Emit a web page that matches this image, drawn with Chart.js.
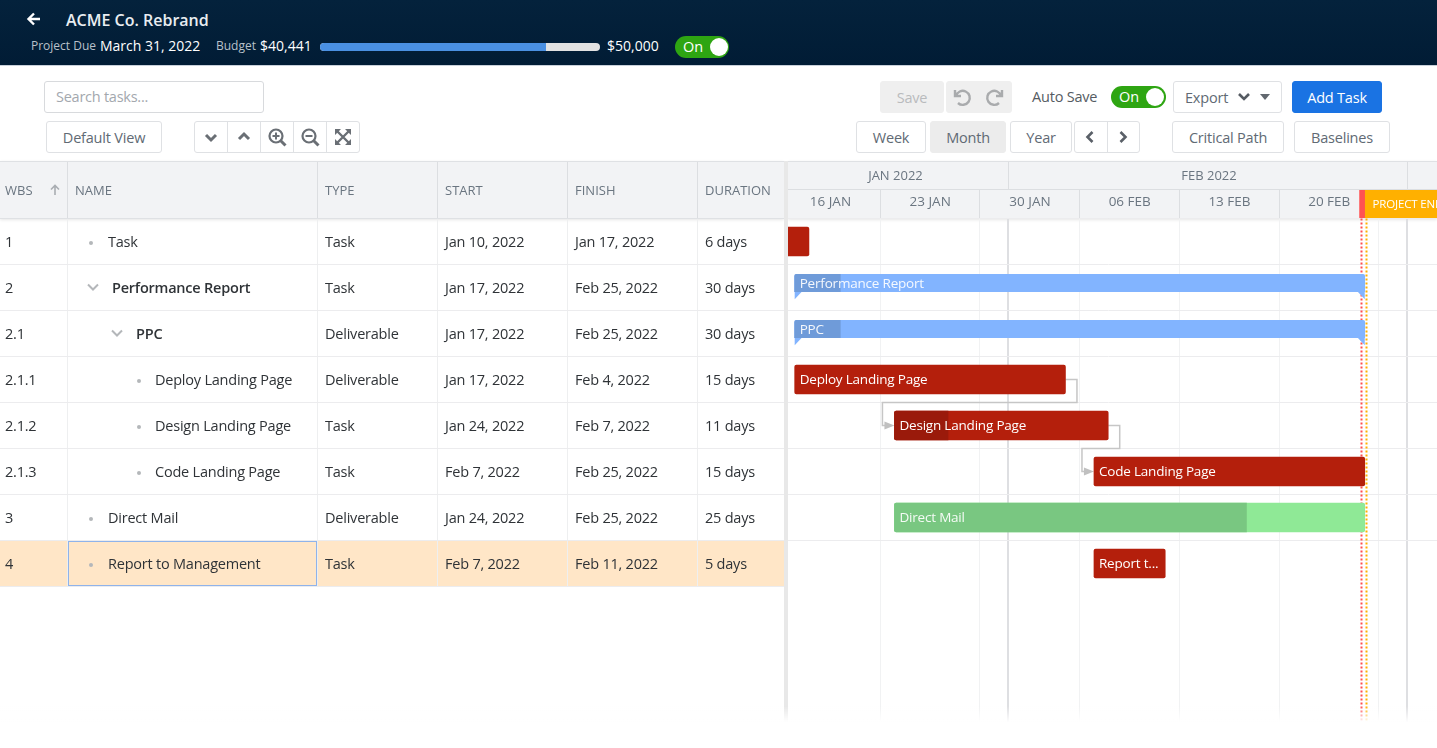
<!DOCTYPE html>
<html><head><meta charset="utf-8">
<script src="https://cdn.jsdelivr.net/npm/chart.js@4"></script>
<style>
html,body{margin:0;padding:0;background:#fff;width:1437px;height:748px;overflow:hidden;font-family:"Open Sans",sans-serif;color:#3a3a3a}
.a{position:absolute;white-space:nowrap;box-sizing:border-box}
.btn{position:absolute;box-sizing:border-box;border:1px solid #dfe1e4;border-radius:3px;background:#fff;display:flex;align-items:center;justify-content:center;font-size:14.5px;letter-spacing:-.2px;color:#616a74}
.cell{position:absolute;white-space:nowrap;font-size:14.5px;letter-spacing:-.22px;color:#2f3337;line-height:20px}
.hd{position:absolute;white-space:nowrap;font-size:13px;color:#6a7580;line-height:18px;top:181px}
svg{display:block}
#chartBox{position:absolute;left:780px;top:162px;width:657px;height:563px}
</style></head><body>
<div class="a" style="left:0;top:0;width:1437px;height:66px;background:linear-gradient(#04223c,#011c35);border-bottom:1px solid #c8d0da"></div>
<svg class="a" style="left:26px;top:11px" width="16" height="16" viewBox="0 0 16 16"><path d="M14 8H3M8 2.5L2.5 8 8 13.5" fill="none" stroke="#fff" stroke-width="2.4"/></svg>
<div class="a" style="left:66px;top:9px;font-size:16px;font-weight:600;color:#e9edf1;line-height:22px">ACME Co. Rebrand</div>
<div class="a" style="left:31px;top:37px;font-size:12px;color:#b9c1ca;line-height:18px">Project Due</div>
<div class="a" style="left:100px;top:36px;font-size:14px;color:#fff;line-height:20px">March 31, 2022</div>
<div class="a" style="left:216px;top:37px;font-size:12px;color:#b9c1ca;line-height:18px">Budget</div>
<div class="a" style="left:260px;top:36px;font-size:14px;color:#fff;line-height:20px">$40,441</div>
<div class="a" style="left:320px;top:43px;width:280px;height:8px;border-radius:4px;background:#e2e2e2;overflow:hidden"><div style="width:226px;height:8px;background:#4a90e2"></div></div>
<div class="a" style="left:607px;top:36px;font-size:14px;color:#fff;line-height:20px">$50,000</div>
<div class="a" style="left:675px;top:36px;width:54px;height:22px;border-radius:11px;background:#2ea512"></div>
<div class="a" style="left:683px;top:36px;font-size:14.5px;color:#fff;line-height:21px">On</div>
<div class="a" style="left:710px;top:38px;width:18px;height:18px;border-radius:9px;background:#fff"></div>

<div class="a" style="left:44px;top:81px;width:220px;height:32px;border:1px solid #d8dadd;border-radius:3px;font-size:14.5px;letter-spacing:-.25px;color:#a3a8ae;line-height:30px;padding-left:11px">Search tasks...</div>
<div class="btn" style="left:46px;top:121px;width:116px;height:32px">Default View</div>
<div class="btn" style="left:194px;top:121px;width:166px;height:32px"></div>
<div id="iconDiv"></div>
<div class="btn" style="left:880px;top:81px;width:64px;height:32px;background:#efefef;border-color:#efefef;color:#b9bbbd">Save</div>
<div class="btn" style="left:946px;top:81px;width:66px;height:32px;background:#efefef;border-color:#efefef"></div>
<svg class="a" style="left:951px;top:87px" width="22" height="20" viewBox="0 0 22 20"><path d="M4 3v6h6M5 9a7 7 0 1 1 2 7" fill="none" stroke="#a9abad" stroke-width="2.4"/></svg>
<svg class="a" style="left:984px;top:87px" width="22" height="20" viewBox="0 0 22 20"><path d="M18 3v6h-6M17 9a7 7 0 1 0-2 7" fill="none" stroke="#a9abad" stroke-width="2.4"/></svg>
<div class="a" style="left:1032px;top:87px;font-size:14.5px;letter-spacing:-.2px;color:#555b62;line-height:20px">Auto Save</div>
<div class="a" style="left:1111px;top:86px;width:55px;height:22px;border-radius:11px;background:#2ea512"></div>
<div class="a" style="left:1119px;top:86px;font-size:14.5px;color:#fff;line-height:21px">On</div>
<div class="a" style="left:1146px;top:88px;width:18px;height:18px;border-radius:9px;background:#fff"></div>
<div class="btn" style="left:1173px;top:81px;width:109px;height:32px;justify-content:flex-start;padding-left:11px">Export</div>
<svg class="a" style="left:1237px;top:92px" width="14" height="10" viewBox="0 0 14 10"><path d="M2 2l5 5 5-5" fill="none" stroke="#555b62" stroke-width="2.6"/></svg>
<svg class="a" style="left:1260px;top:94px" width="10" height="6" viewBox="0 0 10 6"><path d="M0 0h10L5 6z" fill="#62686f"/></svg>
<div class="btn" style="left:1292px;top:81px;width:90px;height:32px;background:#1a73e3;border-color:#1a73e3;color:#fff">Add Task</div>
<div class="btn" style="left:856px;top:121px;width:70px;height:32px">Week</div>
<div class="btn" style="left:930px;top:121px;width:76px;height:32px;background:#ececec;border-color:#ececec">Month</div>
<div class="btn" style="left:1010px;top:121px;width:62px;height:32px">Year</div>
<div class="btn" style="left:1074px;top:121px;width:66px;height:32px"></div>
<div class="a" style="left:1107px;top:121px;width:1px;height:32px;background:#dfe1e4"></div>
<svg class="a" style="left:1085px;top:130px" width="10" height="14" viewBox="0 0 10 14"><path d="M7.5 2L2.5 7l5 5" fill="none" stroke="#5a6068" stroke-width="2.6"/></svg>
<svg class="a" style="left:1118px;top:130px" width="10" height="14" viewBox="0 0 10 14"><path d="M2.5 2l5 5-5 5" fill="none" stroke="#5a6068" stroke-width="2.6"/></svg>
<div class="btn" style="left:1172px;top:121px;width:112px;height:32px">Critical Path</div>
<div class="btn" style="left:1294px;top:121px;width:96px;height:32px">Baselines</div>

<div class="a" style="left:788px;top:161px;width:649px;height:58px;background:#f2f3f5;border-top:1px solid #dfe1e4;border-bottom:1px solid #dfe1e4;box-shadow:0 1px 3px rgba(0,0,0,.1)"></div>
<div class="a" style="left:788px;top:189px;width:649px;height:1px;background:#dcdee1"></div>
<div id="chartBox"><canvas id="gantt" width="657" height="563"></canvas></div>
<div class="a" style="left:0;top:219px;width:784px;height:508px;background:#fff"></div>
<div class="a" style="left:0;top:161px;width:784px;height:58px;background:#f2f3f5;border-top:1px solid #dfe1e4;border-bottom:1px solid #dfe1e4;box-shadow:0 1px 3px rgba(0,0,0,.1)"></div>
<div id="tableDiv"></div>
<div class="a" style="left:784px;top:161px;width:4px;height:565px;background:#e8e8e8"></div>
<div class="a" style="left:0;top:706px;width:1437px;height:22px;background:linear-gradient(rgba(255,255,255,0),#fff 75%)"></div>

<script>
// ---------- data ----------
const wbs = ['1','2','2.1','2.1.1','2.1.2','2.1.3','3','4'];
const names = ['Task','Performance Report','PPC','Deploy Landing Page','Design Landing Page','Code Landing Page','Direct Mail','Report to Management'];
const types = ['Task','Task','Deliverable','Deliverable','Task','Task','Deliverable','Task'];
const starts = ['Jan 10, 2022','Jan 17, 2022','Jan 17, 2022','Jan 17, 2022','Jan 24, 2022','Feb 7, 2022','Jan 24, 2022','Feb 7, 2022'];
const finishes = ['Jan 17, 2022','Feb 25, 2022','Feb 25, 2022','Feb 4, 2022','Feb 7, 2022','Feb 25, 2022','Feb 25, 2022','Feb 11, 2022'];
const durations = ['6 days','30 days','30 days','15 days','11 days','15 days','25 days','5 days'];
const tableHeaders = ['WBS','NAME','TYPE','START','FINISH','DURATION'];
const barLabels = ['','Performance Report','PPC','Deploy Landing Page','Design Landing Page','Code Landing Page','Direct Mail','Report t...'];
const barKinds = ['task','summary','summary','task','task','task','mail','task'];
const progressDays = [0,3.2,3.2,0,3.76,0,24.7,0];
const dependencies = [[3,4],[4,5]];
const weekLabels = ['16 JAN','23 JAN','30 JAN','06 FEB','13 FEB','20 FEB',''];
const monthLabels = ['JAN 2022','FEB 2022'];
const monthStarts = ['Feb 1, 2022','Mar 1, 2022'];
const axisOrigin = 'Jan 16, 2022';
const axisStartDays = -0.03;
const axisEndDays = 46.07;
const todayDays = 40.72;
const projectEndDays = 41.12;
const endLabel = 'PROJECT END';
const emptyRows = ['','',''];

// ---------- table (html) ----------
const colX = [5,75,325,445,575,705];
const colLines = [68,318,438,568,698];
const rowH = 46, rowTop = 218.5;
const indents = [[91,108,0],[93,112,1],[117,136,1],[139,155,0],[139,155,0],[139,155,0],[91,108,0],[91,108,0]];
let h = '';
tableHeaders.forEach((t,i)=>{h+=`<div class="hd" style="left:${colX[i]}px">${t}</div>`});
h+=`<svg class="a" style="left:49px;top:184px" width="12" height="12" viewBox="0 0 12 12"><path d="M6 11V2M2 5.5L6 1.5l4 4" fill="none" stroke="#a9adb2" stroke-width="1.6"/></svg>`;
h+=`<div class="a" style="left:0;top:540px;width:784px;height:46px;background:#ffe6c7"></div>`;
colLines.forEach(x=>{h+=`<div class="a" style="left:${x-1}px;top:162px;width:1px;height:56px;background:#dcdee1"></div><div class="a" style="left:${x-1}px;top:219px;width:1px;height:${rowH*8}px;background:#eeeff0"></div>`});
for(let r=0;r<8;r++){
  const y=rowTop+rowH*r, cy=Math.round(y+13);
  h+=`<div class="a" style="left:0;top:${Math.round(y+rowH-.5)}px;width:784px;height:1px;background:#ececee"></div>`;
  h+=`<div class="cell" style="left:5px;top:${cy}px">${wbs[r]}</div>`;
  const ind=indents[r];
  if(ind[2]) h+=`<svg class="a" style="left:${ind[0]-6}px;top:${cy+5}px" width="12" height="9" viewBox="0 0 12 9"><path d="M1 1.5l5 5 5-5" fill="none" stroke="#b4b7ba" stroke-width="2"/></svg>`;
  else h+=`<div class="a" style="left:${ind[0]-2}px;top:${cy+9}px;width:4px;height:4px;border-radius:2px;background:#b4b7ba"></div>`;
  h+=`<div class="cell" style="left:${ind[1]}px;top:${cy}px;${ind[2]?'font-weight:600;':''}">${names[r]}</div>`;
  h+=`<div class="cell" style="left:325px;top:${cy}px">${types[r]}</div>`;
  h+=`<div class="cell" style="left:445px;top:${cy}px">${starts[r]}</div>`;
  h+=`<div class="cell" style="left:575px;top:${cy}px">${finishes[r]}</div>`;
  h+=`<div class="cell" style="left:705px;top:${cy}px">${durations[r]}</div>`;
}
h+=`<div class="a" style="left:68px;top:541px;width:249px;height:45px;border:1.5px solid #8fb3ea"></div>`;
document.getElementById('tableDiv').innerHTML=h;

const ic='#6a6f75';
const icons=[
 `<path d="M5 8l5 5 5-5" fill="none" stroke="${ic}" stroke-width="3"/>`,
 `<path d="M5 12l5-5 5 5" fill="none" stroke="${ic}" stroke-width="3"/>`,
 `<circle cx="9" cy="9" r="6.5" fill="none" stroke="${ic}" stroke-width="2.2"/><path d="M13.5 13.5l5 5" stroke="${ic}" stroke-width="3"/><path d="M5.5 9h7M9 5.5v7" stroke="${ic}" stroke-width="2"/>`,
 `<circle cx="9" cy="9" r="6.5" fill="none" stroke="${ic}" stroke-width="2.2"/><path d="M13.5 13.5l5 5" stroke="${ic}" stroke-width="3"/><path d="M5.5 9h7" stroke="${ic}" stroke-width="2"/>`,
 `<path d="M3 3l14 14M17 3L3 17" stroke="${ic}" stroke-width="2.4"/><path d="M2 2h6L2 8zM18 2h-6l6 6zM2 18h6l-6-6zM18 18h-6l6-6z" fill="${ic}"/>`];
let ih='';
[210.5,243.5,276.5,309.5,342.5].forEach((cx,i)=>{
  if(i) ih+=`<div class="a" style="left:${Math.round(cx-17)}px;top:121px;width:1px;height:32px;background:#dfe1e4"></div>`;
  ih+=`<svg class="a" style="left:${cx-10}px;top:127px" width="20" height="20" viewBox="0 0 20 20">${icons[i]}</svg>`;
});
document.getElementById('iconDiv').innerHTML=ih;

// ---------- chart ----------
const dayOf = s => Math.round((Date.parse(s)-Date.parse(axisOrigin))/864e5);
const spanFor = k => wbs.map((_,i)=> barKinds[i]===k ? [dayOf(starts[i]), dayOf(finishes[i])+1] : null).concat(emptyRows.map(()=>null));
const progressFor = k => wbs.map((_,i)=> barKinds[i]===k && progressDays[i]>0 ? [dayOf(starts[i]), dayOf(starts[i])+progressDays[i]] : null).concat(emptyRows.map(()=>null));
const monthTicks = monthStarts.map(dayOf);

const base = {grouped:false, borderSkipped:false};
const datasets = [
 {...base,label:'Summary progress',order:1,data:progressFor('summary'),backgroundColor:'#6f9bd9',barThickness:17.5,borderRadius:{topLeft:2},summary:true},
 {...base,label:'Task progress',order:1,data:progressFor('task'),backgroundColor:'#9a1a0b',barThickness:29,borderRadius:{topLeft:2,bottomLeft:2}},
 {...base,label:'Mail progress',order:1,data:progressFor('mail'),backgroundColor:'#79c781',barThickness:29,borderRadius:{topLeft:2,bottomLeft:2}},
 {...base,label:'Summary',order:2,data:spanFor('summary'),backgroundColor:'#82b4ff',barThickness:17.5,borderRadius:{topLeft:2,topRight:2},summary:true},
 {...base,label:'Tasks',order:2,data:spanFor('task'),backgroundColor:'#b41f0c',barThickness:29,borderRadius:2},
 {...base,label:'Mail',order:2,data:spanFor('mail'),backgroundColor:'#8fe996',barThickness:29,borderRadius:2}
];
const SUMMARY_SHIFT = -4.5;

const ganttPlugin = {
 id:'gantt',
 beforeDatasetsDraw(chart){
  const {ctx,chartArea:ca,scales:{x,y}}=chart;
  ctx.save();
  [[todayDays,'#ff4d4f'],[projectEndDays,'#ffb000']].forEach(([d,c])=>{
    const px=Math.round(x.getPixelForValue(d))+.5;
    ctx.strokeStyle=c;ctx.lineWidth=2;ctx.setLineDash([2,2]);
    ctx.beginPath();ctx.moveTo(px,ca.top);ctx.lineTo(px,ca.bottom);ctx.stroke();
  });
  ctx.setLineDash([]);
  dependencies.forEach(([from,to])=>{
    const x0=x.getPixelForValue(dayOf(finishes[from])+1), y0=y.getPixelForValue(from);
    const x1=x.getPixelForValue(dayOf(starts[to])), y1=y.getPixelForValue(to);
    const my=(y0+y1)/2;
    ctx.strokeStyle='#c6c6c6';ctx.lineWidth=1.5;
    ctx.beginPath();ctx.moveTo(x0,y0);ctx.lineTo(x0+11.5,y0);ctx.lineTo(x0+11.5,my);ctx.lineTo(x1-12,my);ctx.lineTo(x1-12,y1);ctx.lineTo(x1-8,y1);ctx.stroke();
    ctx.fillStyle='#c0c0c0';
    ctx.beginPath();ctx.moveTo(x1-10,y1-4);ctx.lineTo(x1,y1);ctx.lineTo(x1-10,y1+4);ctx.closePath();ctx.fill();
  });
  ctx.restore();
 },
 beforeDatasetDraw(chart,args){
  if(chart.data.datasets[args.index].summary){chart.ctx.save();chart.ctx.translate(0,SUMMARY_SHIFT);}
 },
 afterDatasetDraw(chart,args){
  const ds=chart.data.datasets[args.index];
  if(!ds.summary) return;
  const ctx=chart.ctx;
  if(ds.label==='Summary'){
    args.meta.data.forEach((el,i)=>{
      if(!ds.data[i]) return;
      const p=el.getProps(['x','y','base','height'],true);
      const b=p.y+p.height/2;
      ctx.fillStyle=ds.backgroundColor;
      ctx.beginPath();ctx.moveTo(p.base,b-.5);ctx.lineTo(p.base,b+7.5);ctx.lineTo(p.base+7.5,b-.5);ctx.closePath();ctx.fill();
      ctx.beginPath();ctx.moveTo(p.x,b-.5);ctx.lineTo(p.x,b+7.5);ctx.lineTo(p.x-7.5,b-.5);ctx.closePath();ctx.fill();
    });
  }
  ctx.restore();
 },
 afterDatasetsDraw(chart){
  const {ctx,scales:{x,y}}=chart;
  ctx.save();
  ctx.font='13.5px "Open Sans"';ctx.letterSpacing='-.2px';ctx.textBaseline='middle';ctx.textAlign='left';
  barLabels.forEach((t,i)=>{
    if(!t) return;
    const sum=barKinds[i]==='summary';
    ctx.fillStyle=sum||barKinds[i]==='mail'?'rgba(255,255,255,.92)':'#fff';
    ctx.fillText(t,x.getPixelForValue(dayOf(starts[i]))+5,y.getPixelForValue(i)+1+(sum?SUMMARY_SHIFT:0));
  });
  ctx.restore();
 },
 afterDraw(chart){
  const {ctx,chartArea:ca,scales:{x}}=chart;
  ctx.save();
  const rowTopY=x.top, rowMid=x.top+28;
  const bounds=[0].concat(monthTicks);
  ctx.strokeStyle='#dcdee1';ctx.lineWidth=1;
  monthTicks.forEach(d=>{const px=Math.round(x.getPixelForValue(d))+.5;ctx.beginPath();ctx.moveTo(px,rowTopY);ctx.lineTo(px,rowMid);ctx.stroke();});
  ctx.font='13px "Open Sans"';ctx.fillStyle='#6a7580';ctx.textAlign='center';ctx.textBaseline='middle';
  monthLabels.forEach((t,i)=>{ctx.fillText(t,(x.getPixelForValue(bounds[i])+x.getPixelForValue(bounds[i+1]))/2+1,x.top+14);});
  const t=x.getPixelForValue(todayDays), e=x.getPixelForValue(projectEndDays);
  ctx.fillStyle='#ff5252';ctx.fillRect(t-1.5,rowMid,e-t+1,ca.top-rowMid-.5);
  ctx.fillStyle='#ffb000';ctx.fillRect(e-1.5,rowMid,ca.right-e+1.5,ca.top-rowMid-.5);
  ctx.font='500 11.5px "Open Sans"';ctx.letterSpacing='-.15px';ctx.fillStyle='#fff';ctx.textAlign='left';
  ctx.fillText(endLabel,e+6,rowMid+14.5);
  ctx.restore();
 }
};

new Chart(document.getElementById('gantt'),{
 type:'bar',
 data:{labels:wbs.concat(emptyRows),datasets},
 plugins:[ganttPlugin],
 options:{
  indexAxis:'y',responsive:false,animation:false,devicePixelRatio:1,
  layout:{padding:{left:0,right:0,top:0,bottom:.5}},
  plugins:{legend:{display:false},tooltip:{enabled:false},title:{display:false}},
  scales:{
   x:{type:'linear',position:'top',min:axisStartDays,max:axisEndDays,
    afterBuildTicks(s){
      const wk=[];for(let d=0;d<=axisEndDays;d+=7)wk.push(d);
      s.ticks=wk.concat(monthTicks).sort((a,b)=>a-b).map(v=>({value:v}));
    },
    afterFit(s){s.height=56.5;s.paddingLeft=0;s.paddingRight=0;},
    ticks:{autoSkip:false,maxRotation:0,minRotation:0,includeBounds:false,labelOffset:50,padding:-21,color:'#6a7580',font:{family:'Open Sans',size:13.5},
      callback(v){return v%7===0?weekLabels[v/7]:'';}},
    border:{display:false},
    grid:{tickLength:29,
      tickColor:c=>c.tick&&monthTicks.includes(c.tick.value)?'rgba(0,0,0,0)':'#dcdee1',
      color:c=>c.tick&&monthTicks.includes(c.tick.value)?'#dedfe2':'#f1f2f3',
      lineWidth:c=>c.tick&&monthTicks.includes(c.tick.value)?2:1}
   },
   y:{type:'category',display:true,position:'left',
    afterFit(s){s.width=0;},
    ticks:{display:false},border:{display:false},
    grid:{offset:true,drawTicks:false,color:c=>c.index<8?'#ececee':'rgba(0,0,0,0)',lineWidth:1}}
  }
 }
});
</script>
</body></html>
